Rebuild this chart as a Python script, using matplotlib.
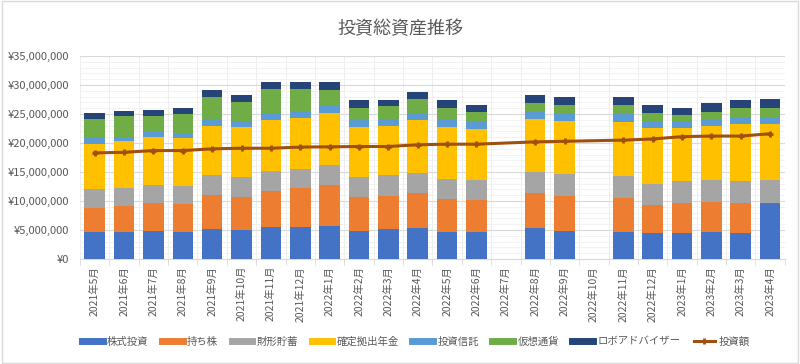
import numpy as np
import matplotlib.pyplot as plt
from matplotlib.lines import Line2D
from matplotlib.patches import Rectangle
from matplotlib.ticker import FuncFormatter, MultipleLocator

plt.rcParams['font.family'] = ['Noto Sans CJK JP', 'DejaVu Sans']

months = ['2021年5月', '2021年6月', '2021年7月', '2021年8月', '2021年9月', '2021年10月',
          '2021年11月', '2021年12月', '2022年1月', '2022年2月', '2022年3月', '2022年4月',
          '2022年5月', '2022年6月', '2022年7月', '2022年8月', '2022年9月', '2022年10月',
          '2022年11月', '2022年12月', '2023年1月', '2023年2月', '2023年3月', '2023年4月']

nan = np.nan
# 単位: 万円
kabu = [460, 460, 480, 460, 520, 505, 545, 560, 574, 490, 510, 530,
        470, 470, nan, 530, 490, nan, 460, 440, 440, 460, 440, 965]
mochikabu = [420, 450, 480, 490, 590, 565, 635, 660, 706, 580, 580, 600,
             560, 550, nan, 610, 600, nan, 600, 490, 525, 520, 525, 0]
zaikei = [320, 320, 320, 310, 340, 340, 330, 330, 340, 350, 350, 350,
          350, 350, nan, 365, 375, nan, 365, 370, 385, 390, 385, 405]
kakutei = [780, 800, 820, 820, 840, 860, 890, 890, 900, 860, 850, 910,
           900, 880, nan, 915, 915, nan, 945, 960, 910, 930, 980, 960]
toushin = [100, 80, 90, 100, 120, 110, 120, 110, 120, 120, 130, 130,
           120, 130, nan, 130, 140, nan, 150, 120, 120, 120, 110, 110]
kasou = [340, 360, 280, 320, 390, 330, 420, 380, 280, 210, 210, 240,
         210, 160, nan, 140, 140, nan, 140, 140, 110, 120, 160, 170]
robo = [100, 90, 100, 110, 110, 110, 120, 120, 130, 130, 110, 120,
        130, 120, nan, 140, 140, nan, 140, 140, 110, 150, 140, 150]
toushigaku = [1830, 1840, 1870, 1870, 1900, 1910, 1910, 1930, 1935, 1940, 1940, 1970,
              1980, 1980, nan, 2020, 2030, nan, 2050, 2070, 2110, 2120, 2120, 2160]

series = [('株式投資', kabu, '#4472C4'),
          ('持ち株', mochikabu, '#ED7D31'),
          ('財形貯蓄', zaikei, '#A5A5A5'),
          ('確定拠出年金', kakutei, '#FFC000'),
          ('投資信託', toushin, '#5B9BD5'),
          ('仮想通貨', kasou, '#70AD47'),
          ('ロボアドバイザー', robo, '#264478')]

fig = plt.figure(figsize=(8, 3.64), dpi=100)
ax = fig.add_axes([0.1, 0.2885, 0.881, 0.5575])

x = np.arange(len(months))
bottom = np.zeros(len(months))
handles = []
for name, vals, col in series:
    v = np.nan_to_num(np.array(vals, dtype=float)) * 10000
    ax.bar(x, v, 0.7, bottom=bottom, color=col, zorder=3)
    bottom += v
    handles.append(Line2D([], [], color=col, lw=5, label=name))

line_col = '#A0500E'
ty = np.array(toushigaku, dtype=float) * 10000
ok = ~np.isnan(ty)
ax.plot(x[ok], ty[ok], color=line_col, lw=2.2, marker='+', ms=5, mew=2, zorder=4)
handles.append(Line2D([], [], color=line_col, lw=2.2, marker='+', ms=5, mew=2, label='投資額'))

ax.set_xlim(-0.5, len(months) - 0.5)
ax.set_ylim(0, 35000000)
ax.yaxis.set_major_locator(MultipleLocator(5000000))
ax.yaxis.set_minor_locator(MultipleLocator(1000000))
ax.yaxis.set_major_formatter(FuncFormatter(lambda v, p: '¥{:,.0f}'.format(v)))
ax.set_xticks(x)
ax.set_xticklabels(months, rotation=90, fontsize=7.5, color='#595959')
ax.set_xticks(np.arange(len(months) + 1) - 0.5, minor=True)
ax.tick_params(axis='x', which='major', length=0, pad=5)
ax.tick_params(axis='x', which='minor', length=4, color='#D9D9D9')
ax.tick_params(axis='y', which='both', length=0, labelsize=8, labelcolor='#595959', pad=8)

ax.grid(axis='y', which='major', color='#D9D9D9', lw=0.8, zorder=0)
ax.grid(axis='y', which='minor', color='#F0F0F0', lw=0.6, zorder=0)
ax.grid(axis='x', which='minor', color='#EBEBEB', lw=0.6, zorder=0)
for s in ['top', 'right', 'left']:
    ax.spines[s].set_visible(False)
ax.spines['bottom'].set_color('#D9D9D9')

fig.suptitle('投資総資産推移', y=0.945, fontsize=13, color='#595959')
fig.legend(handles=handles, loc='center', bbox_to_anchor=(0.52, 0.062), ncol=8,
           frameon=False, fontsize=7.5, handlelength=2.0, columnspacing=1.3,
           handletextpad=0.4, labelcolor='#595959')

fig.patches.append(Rectangle((0.002, 0.003), 0.996, 0.994, transform=fig.transFigure,
                             fill=False, edgecolor='#D9D9D9', lw=1))

fig.savefig('out.png', dpi=100)
